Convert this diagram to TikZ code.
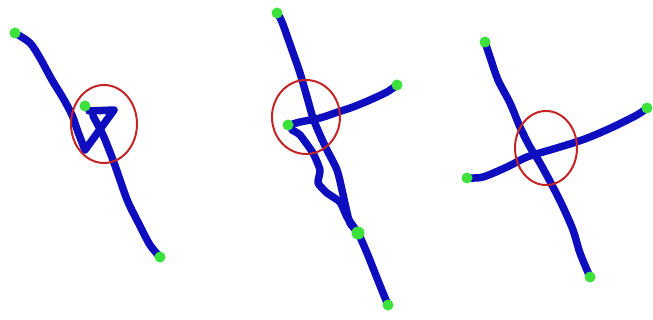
\documentclass[tikz,border=0pt]{standalone}
\begin{document}
\begin{tikzpicture}[x=1pt,y=-1pt,
  stroke/.style={draw=strokeblue,line width=7.5pt,line cap=round,line join=round},
  ring/.style={draw=ringred,line width=2pt},
  endpt/.style={fill=dotgreen}]
\definecolor{strokeblue}{RGB}{14,14,190}
\definecolor{ringred}{RGB}{196,36,36}
\definecolor{dotgreen}{RGB}{60,225,60}
\useasboundingbox (0,0) rectangle (653,320);
\fill[white] (0,0) rectangle (653,320);
% panel 1
\draw[stroke] plot[smooth,tension=0.5] coordinates {(15,33) (30,43) (40,58) (52,80) (63,98) (72,115) (78,132) (85,150)}
  -- (114,110) -- (89,111);
\draw[stroke] plot[smooth,tension=0.5] coordinates {(93,116) (103,135) (113,160) (120,180) (128,202) (140,226) (150,245) (160,257)};
\draw[ring] (104,124) ellipse (33 and 39);
\fill[endpt] (15,33) circle (5.5);
\fill[endpt] (85,106) circle (5.5);
\fill[endpt] (160,257) circle (5.5);
% panel 2
\draw[stroke] plot[smooth,tension=0.5] coordinates {(277,13) (282,22) (292,50) (300,73) (307,97) (313,118) (320,135) (327,150) (337,170) (342,190) (346,208) (350,223) (358,233) (367,253) (375,273) (383,293) (388,305)};
\draw[stroke] plot[smooth,tension=0.5] coordinates {(290,125) (300,122) (320,118) (338,112) (353,107) (370,100) (387,92) (397,85)};
\draw[stroke] plot[smooth,tension=0.3] coordinates {(292,130) (300,135) (313,153) (320,170) (318,183) (327,193) (340,202) (347,217) (358,233)};
\draw[ring] (306,117) ellipse (34 and 37);
\fill[endpt] (277,13) circle (5.5);
\fill[endpt] (397,85) circle (5.5);
\fill[endpt] (288,125) circle (5.5);
\fill[endpt] (358,233) circle (6.5);
\fill[endpt] (388,305) circle (5.5);
% panel 3
\draw[stroke] plot[smooth,tension=0.5] coordinates {(485,42) (490,57) (498,80) (510,103) (520,127) (530,147) (540,163) (553,187) (563,207) (573,230) (580,253) (590,277)};
\draw[stroke] plot[smooth,tension=0.5] coordinates {(467,178) (483,177) (507,167) (527,157) (550,150) (573,143) (590,137) (613,127) (637,115) (647,108)};
\draw[ring] (546,148) ellipse (31 and 37);
\fill[endpt] (485,42) circle (5.5);
\fill[endpt] (647,108) circle (5.5);
\fill[endpt] (467,178) circle (5.5);
\fill[endpt] (590,277) circle (5.5);
\end{tikzpicture}
\end{document}
